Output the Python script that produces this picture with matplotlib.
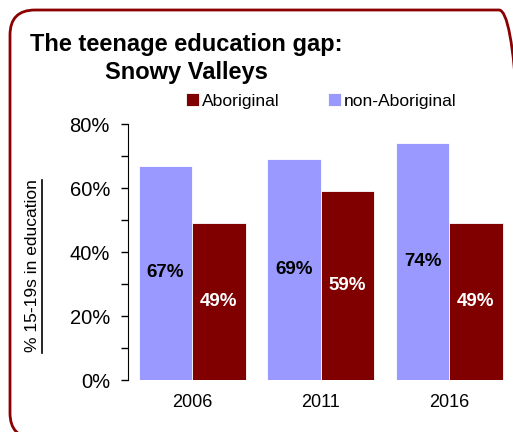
import matplotlib
matplotlib.use("Agg")
import matplotlib.pyplot as plt
from matplotlib.patches import FancyBboxPatch
from matplotlib.lines import Line2D
import numpy as np

years = ["2006", "2011", "2016"]
non_aboriginal = [67, 69, 74]
aboriginal = [49, 59, 49]

blue = "#9999ff"
red = "#800000"

plt.rcParams['font.family'] = ['Liberation Sans', 'DejaVu Sans']

W, H = 513, 432
fig = plt.figure(figsize=(W / 100, H / 100), dpi=100)

# rounded frame (runs off the right and bottom edges)
frame = FancyBboxPatch((10 / W, -6 / H), 514 / W, 428 / H,
                       boxstyle="round,pad=0,rounding_size=%f" % (25 / W),
                       transform=fig.transFigure, facecolor="none",
                       edgecolor="#8b0000", linewidth=2, mutation_aspect=W / H,
                       zorder=-1)
fig.patches.append(frame)

ax = fig.add_axes([128 / W, 1 - 380 / H, 385.5 / W, 256 / H])
ax.set_facecolor("none")

x = np.arange(len(years))
bw = 0.416
b1 = ax.bar(x - bw / 2, non_aboriginal, bw, color=blue, edgecolor="white", linewidth=0.6,
            label="non-Aboriginal")
b2 = ax.bar(x + bw / 2, aboriginal, bw, color=red, edgecolor="white", linewidth=0.6,
            label="Aboriginal")

for xi, v in zip(x, non_aboriginal):
    ax.text(xi - bw / 2, v / 2, f"{v}%", ha="center", va="center",
            fontsize=13.5, fontweight="bold", color="black")
for xi, v in zip(x, aboriginal):
    ax.text(xi + bw / 2, v / 2, f"{v}%", ha="center", va="center",
            fontsize=13.5, fontweight="bold", color="white")

ax.set_xlim(-0.5, 2.5)
ax.set_ylim(0, 80)
ax.set_yticks([0, 20, 40, 60, 80])
ax.set_yticklabels([f"{t}%" for t in [0, 20, 40, 60, 80]], fontsize=14.5)
ax.set_yticks([10, 30, 50, 70], minor=True)
ax.tick_params(axis="y", which="both", direction="out", length=5, width=1, pad=8)
ax.set_xticks(x)
ax.set_xticklabels(years, fontsize=13)
ax.tick_params(axis="x", length=0, pad=10)
for s in ["top", "right", "bottom"]:
    ax.spines[s].set_visible(False)

# y label with underline
fig.text(33 / W, 1 - 266 / H, "% 15-19s in education", rotation=90,
         ha="center", va="center", fontsize=12.5)
fig.add_artist(Line2D([42 / W, 42 / W], [1 - 353 / H, 1 - 180 / H],
                      transform=fig.transFigure, color="black", linewidth=1.2))

# title
fig.text(30 / W, 1 - 45 / H, "The teenage education gap:", ha="left", va="center",
         fontsize=17, fontweight="bold")
fig.text(186 / W, 1 - 73 / H, "Snowy Valleys", ha="center", va="center",
         fontsize=17, fontweight="bold")

leg = fig.legend(handles=[b2, b1], labels=["Aboriginal", "non-Aboriginal"],
                 loc="center left", bbox_to_anchor=(170 / W, 1 - 101 / H),
                 ncol=2, frameon=False, handlelength=0.75, handleheight=0.75,
                 handletextpad=0.15, columnspacing=2.8,
                 prop={"size": 12.6})

fig.savefig("out.png", dpi=100)
